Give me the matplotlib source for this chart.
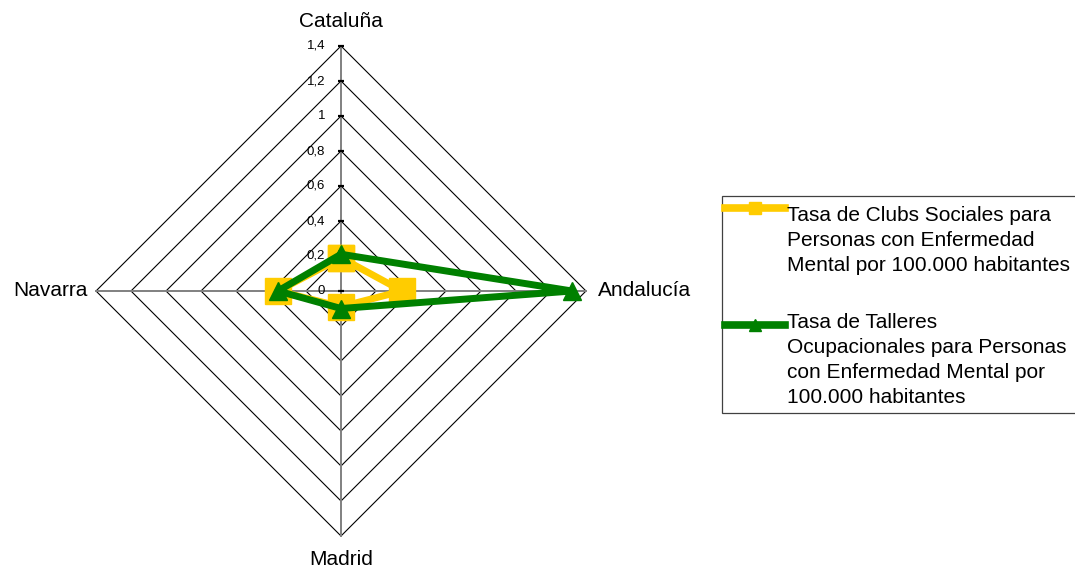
import numpy as np
import matplotlib
matplotlib.use("Agg")
import matplotlib.pyplot as plt
from matplotlib.lines import Line2D
from matplotlib.patches import Rectangle

# Data
categories = ["Cataluña", "Andalucía", "Madrid", "Navarra"]
clubs = [0.19, 0.35, 0.09, 0.36]
talleres = [0.21, 1.32, 0.10, 0.36]
ticks = [0, 0.2, 0.4, 0.6, 0.8, 1.0, 1.2, 1.4]
tick_labels = ["0", "0,2", "0,4", "0,6", "0,8", "1", "1,2", "1,4"]
legend_clubs = "Tasa de Clubs Sociales para\nPersonas con Enfermedad\nMental por 100.000 habitantes"
legend_talleres = ("Tasa de Talleres\nOcupacionales para Personas\n"
                   "con Enfermedad Mental por\n100.000 habitantes")

YELLOW = "#FFCC00"
GREEN = "#008000"
FONT = "Liberation Sans"
LABEL_SIZE = 15

W, H = 1075, 570
fig = plt.figure(figsize=(W / 100, H / 100), dpi=100)
fig.patch.set_facecolor("white")

# Axes placed so that the radar centre sits at pixel (341, 291)
cx, cy = 341, 291
unit = 175.0          # pixels per data unit
lim = 1.5
half = lim * unit
ax = fig.add_axes([(cx - half) / W, (H - cy - half) / H, 2 * half / W, 2 * half / H])
ax.set_xlim(-lim, lim)
ax.set_ylim(-lim, lim)
ax.set_aspect("equal")
ax.axis("off")

# Spoke angles: clockwise from the top
n = len(categories)
angles = np.pi / 2 - np.arange(n) * 2 * np.pi / n
rmax = ticks[-1]


def to_xy(values):
    v = np.asarray(values, dtype=float)
    xs = v * np.cos(angles)
    ys = v * np.sin(angles)
    return np.append(xs, xs[0]), np.append(ys, ys[0])


# Diamond grid
for t in ticks[1:]:
    gx, gy = to_xy([t] * n)
    ax.plot(gx, gy, color="black", lw=0.8, zorder=1, clip_on=False)

# Spokes
for a in angles:
    ax.plot([0, rmax * np.cos(a)], [0, rmax * np.sin(a)], color="#808080",
            lw=1.4, zorder=1.5, clip_on=False)

# Tick marks and labels on the vertical axis
for t, lab in zip(ticks, tick_labels):
    ax.plot([0], [t], marker="_", color="black", ms=4, mew=1.6, zorder=2, clip_on=False)
    ax.text(-16 / unit, t, lab, ha="right", va="center", fontsize=9.5,
            family=FONT, color="black")

# Category labels
ax.text(0, rmax + 15 / unit, categories[0], ha="center", va="bottom",
        fontsize=LABEL_SIZE, family=FONT)
ax.text(rmax + 12 / unit, 0, categories[1], ha="left", va="center",
        fontsize=LABEL_SIZE, family=FONT)
ax.text(0, -rmax - 14 / unit, categories[2], ha="center", va="top",
        fontsize=LABEL_SIZE, family=FONT)
ax.text(-rmax - 8 / unit, 0, categories[3], ha="right", va="center",
        fontsize=LABEL_SIZE, family=FONT)

# Series
x1, y1 = to_xy(clubs)
ax.plot(x1, y1, color=YELLOW, lw=5, solid_joinstyle="round", zorder=3,
        marker="s", ms=19, mfc=YELLOW, mec=YELLOW, clip_on=False)
x2, y2 = to_xy(talleres)
ax.plot(x2, y2, color=GREEN, lw=5, solid_joinstyle="round", zorder=4, clip_on=False)
ax.plot(x2[:-1], y2[:-1], ls="none", marker="^", ms=12.5, mfc=GREEN, mec=GREEN,
        zorder=5, clip_on=False)


# Legend box drawn in pixel coordinates
def fx(x):
    return x / W


def fy(y):
    return 1 - y / H


fig.add_artist(Rectangle((fx(722), fy(413)), fx(1100) - fx(722), fy(196) - fy(413),
                         transform=fig.transFigure, facecolor="white",
                         edgecolor="#404040", lw=0.9, zorder=10))

entries = [
    (legend_clubs, YELLOW, "s", 8.5, 208, 221),
    (legend_talleres, GREEN, "^", 9, 325, 328),
]
for label, col, mk, ms, hy, base in entries:
    fig.add_artist(Line2D([fx(725), fx(785)], [fy(hy), fy(hy)], transform=fig.transFigure,
                          color=col, lw=5.5, zorder=11))
    fig.add_artist(Line2D([fx(755)], [fy(hy)], transform=fig.transFigure, ls="none",
                          marker=mk, ms=ms, mfc=col, mec=col, zorder=12))
    for i, line in enumerate(label.split("\n")):
        fig.text(fx(787), fy(base + 25 * i), line, ha="left", va="baseline",
                 fontsize=LABEL_SIZE, family=FONT, zorder=12)

fig.savefig("out.png", dpi=100)
